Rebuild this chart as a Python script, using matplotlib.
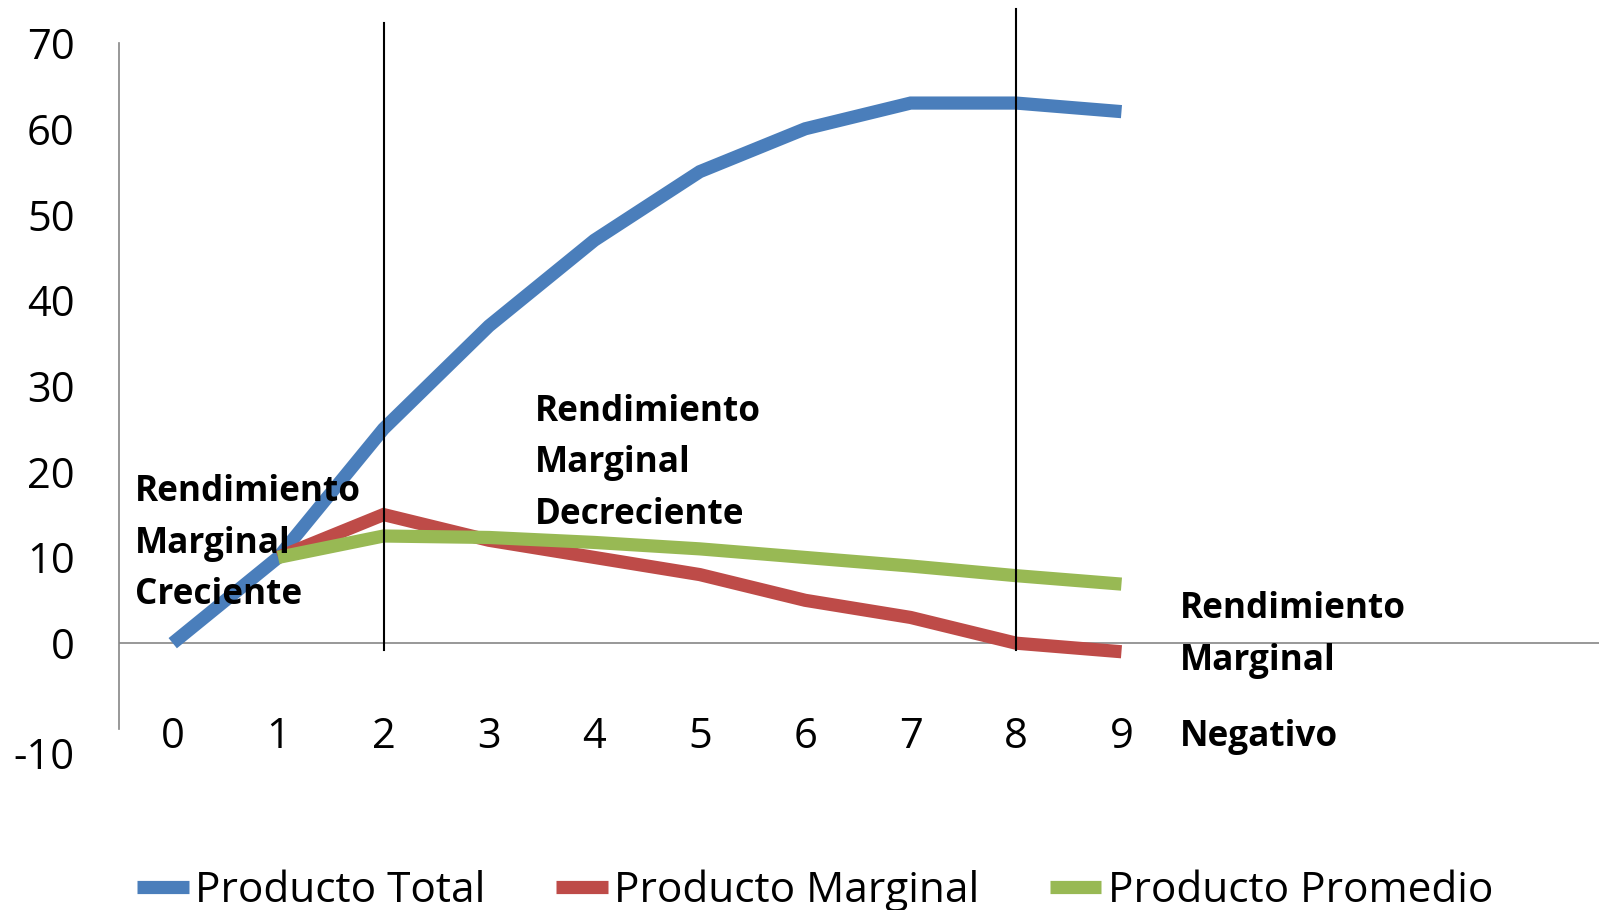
import matplotlib
matplotlib.use("Agg")
import matplotlib.pyplot as plt
import matplotlib.transforms as mtransforms

plt.rcParams['font.family'] = ['Open Sans', 'DejaVu Sans']

# Unidades de trabajo y producción
trabajo = [0, 1, 2, 3, 4, 5, 6, 7, 8, 9]
producto_total = [0, 10, 25, 37, 47, 55, 60, 63, 63, 62]
trabajo_mg = [1, 2, 3, 4, 5, 6, 7, 8, 9]
producto_marginal = [10, 15, 12, 10, 8, 5, 3, 0, -1]
producto_promedio = [10, 12.5, 12.33, 11.75, 11, 10, 9, 7.875, 6.89]
limites_etapas = [2, 8]
y_ticks = [-10, 0, 10, 20, 30, 40, 50, 60, 70]

AZUL = '#4A7EBB'
ROJO = '#BE4B48'
VERDE = '#98B954'
GRIS = '#868686'

fig = plt.figure(figsize=(15.99, 9.10), dpi=100)
ax = fig.add_axes([0.0744, 0.199, 0.9256, 0.7537])

estilo = dict(lw=9.5, solid_capstyle='butt', solid_joinstyle='miter')
ax.plot(trabajo, producto_total, color=AZUL, label='Producto Total', **estilo)
ax.plot(trabajo_mg, producto_marginal, color=ROJO, label='Producto Marginal', **estilo)
ax.plot(trabajo_mg, producto_promedio, color=VERDE, label='Producto Promedio', **estilo)

# eje horizontal en cero
ax.axhline(0, color=GRIS, lw=1.2, zorder=1)

# líneas que separan las etapas
ax.plot([limites_etapas[0]] * 2, [-0.8, 72.3], color='black', lw=1.5, clip_on=False, zorder=4)
ax.plot([limites_etapas[1]] * 2, [-0.8, 74.0], color='black', lw=1.5, clip_on=False, zorder=4)

ax.set_xlim(-0.51, 13.53)
ax.set_ylim(-10, 70)

for s in ['top', 'right', 'bottom']:
    ax.spines[s].set_visible(False)
ax.spines['left'].set_color(GRIS)
ax.spines['left'].set_linewidth(1.2)

ax.set_xticks([])
ax.set_yticks(y_ticks)
ax.set_yticklabels([str(v) for v in y_ticks])
ax.tick_params(axis='y', length=0, pad=32, labelsize=30)
lbl = ax.get_yticklabels()[0]
lbl.set_transform(lbl.get_transform() + mtransforms.ScaledTranslation(0, -0.24, fig.dpi_scale_trans))

# etiquetas de categoría en la parte baja del eje
for x in trabajo:
    ax.text(x, -10.9, str(x), ha='center', va='center', fontsize=30)

negrita = dict(fontsize=25.3, fontweight='bold', ha='left', va='center', linespacing=1.57, zorder=5)
ax.text(-0.36, 11.6, 'Rendimiento\nMarginal\nCreciente', **negrita)
ax.text(3.44, 21.0, 'Rendimiento\nMarginal\nDecreciente', **negrita)
ax.text(9.55, 0.95, 'Rendimiento\nMarginal', **negrita)
ax.text(9.55, -10.9, 'Negativo', **negrita)

fig.legend(loc='center', bbox_to_anchor=(0.5098, 0.021), ncol=3, frameon=False,
           fontsize=30.5, handlelength=1.22, handletextpad=0.15, columnspacing=1.66)

fig.savefig('out.png', dpi=100)
